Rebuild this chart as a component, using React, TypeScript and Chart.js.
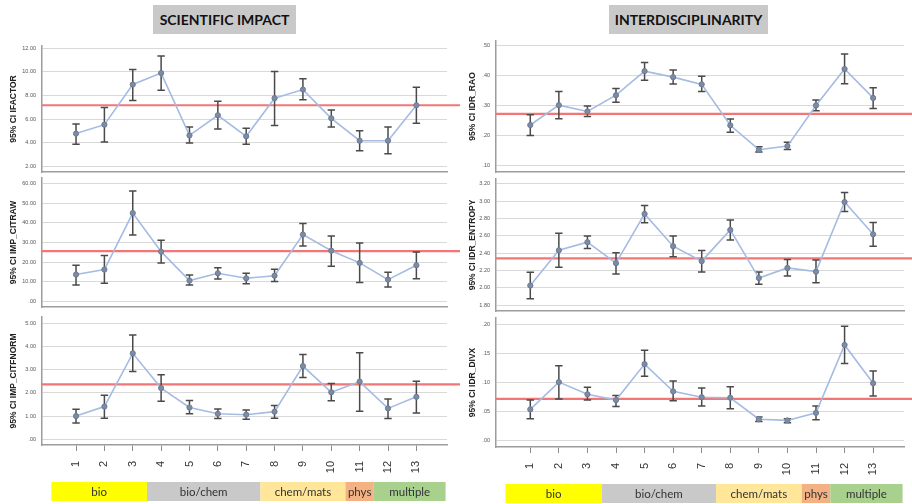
import React, { useEffect, useRef } from "react";
import { Chart, registerables } from "chart.js";

Chart.register(...registerables);

// ---------- data ----------
const categories = ["1", "2", "3", "4", "5", "6", "7", "8", "9", "10", "11", "12", "13"];

const groupNames = ["bio", "bio/chem", "chem/mats", "phys", "multiple"];
const groupFirst = [1, 4, 8, 11, 12];
const groupLast = [3, 7, 10, 11, 13];
const groupColors = ["#ffff00", "#c9c9c9", "#ffe699", "#f4b183", "#a9d18e"];

const ifactorMean = [4.76, 5.52, 8.93, 9.9, 4.61, 6.32, 4.53, 7.77, 8.5, 6.06, 4.16, 4.16, 7.17];
const ifactorLow = [3.85, 4.05, 7.57, 8.45, 3.96, 5.15, 3.85, 5.44, 7.63, 5.32, 3.31, 3.05, 5.64];
const ifactorHigh = [5.58, 6.97, 10.2, 11.35, 5.32, 7.51, 5.21, 10.04, 9.41, 6.77, 5.01, 5.32, 8.7];
const ifactorRef = 7.17;
const ifactorTicks = [2, 4, 6, 8, 10, 12];

const citrawMean = [13.7, 16.2, 44.9, 25.3, 10.6, 14.3, 11.8, 13.1, 34.0, 25.8, 19.6, 11.1, 18.4];
const citrawLow = [8.4, 9.2, 33.8, 19.6, 8.4, 11.4, 9.0, 10.1, 28.2, 17.9, 9.6, 7.3, 11.6];
const citrawHigh = [18.4, 23.4, 56.1, 31.1, 13.5, 17.1, 14.3, 16.4, 39.6, 33.3, 29.7, 14.8, 25.1];
const citrawRef = 25.6;
const citrawTicks = [0, 10, 20, 30, 40, 50, 60];

const citfnormMean = [1.0, 1.41, 3.71, 2.21, 1.37, 1.1, 1.06, 1.19, 3.16, 2.03, 2.49, 1.33, 1.83];
const citfnormLow = [0.7, 0.91, 2.93, 1.64, 1.1, 0.9, 0.86, 0.91, 2.67, 1.66, 1.21, 0.9, 1.13];
const citfnormHigh = [1.29, 1.9, 4.5, 2.79, 1.67, 1.31, 1.26, 1.46, 3.66, 2.41, 3.74, 1.74, 2.5];
const citfnormRef = 2.37;
const citfnormTicks = [0, 1, 2, 3, 4, 5];

const raoMean = [0.236, 0.302, 0.281, 0.335, 0.415, 0.395, 0.371, 0.235, 0.154, 0.166, 0.301, 0.422, 0.326];
const raoLow = [0.201, 0.257, 0.264, 0.312, 0.385, 0.372, 0.347, 0.212, 0.146, 0.155, 0.283, 0.373, 0.291];
const raoHigh = [0.27, 0.347, 0.299, 0.357, 0.444, 0.419, 0.398, 0.256, 0.164, 0.179, 0.319, 0.472, 0.36];
const raoRef = 0.273;
const raoTicks = [0.1, 0.2, 0.3, 0.4, 0.5];

const entropyMean = [2.027, 2.433, 2.527, 2.285, 2.852, 2.48, 2.308, 2.668, 2.113, 2.23, 2.187, 2.989, 2.617];
const entropyLow = [1.874, 2.238, 2.453, 2.16, 2.75, 2.359, 2.183, 2.551, 2.042, 2.136, 2.058, 2.879, 2.48];
const entropyHigh = [2.179, 2.629, 2.598, 2.406, 2.95, 2.598, 2.43, 2.782, 2.183, 2.328, 2.32, 3.098, 2.754];
const entropyRef = 2.34;
const entropyTicks = [1.8, 2.0, 2.2, 2.4, 2.6, 2.8, 3.0, 3.2];

const divxMean = [0.054, 0.101, 0.08, 0.07, 0.132, 0.085, 0.075, 0.074, 0.037, 0.035, 0.048, 0.165, 0.099];
const divxLow = [0.038, 0.072, 0.07, 0.059, 0.111, 0.069, 0.06, 0.055, 0.033, 0.031, 0.036, 0.133, 0.077];
const divxHigh = [0.07, 0.129, 0.092, 0.078, 0.156, 0.103, 0.091, 0.093, 0.041, 0.038, 0.06, 0.197, 0.12];
const divxRef = 0.072;
const divxTicks = [0, 0.05, 0.1, 0.15, 0.2];

// ---------- layout ----------
type Column = { left: number; width: number; yAxisWidth: number; padRight: number; titlePad: number };
const LEFT_COL: Column = { left: 0, width: 460, yAxisWidth: 42, padRight: 13, titlePad: 8.4 };
const RIGHT_COL: Column = { left: 456, width: 456, yAxisWidth: 40, padRight: 8, titlePad: 11.6 };

type Spec = {
  title: string;
  mean: number[];
  low: number[];
  high: number[];
  refValue: number;
  ticks: number[];
  yMin: number;
  yMax: number;
  areaTop: number;
  areaBottom: number;
  bottom: boolean;
  col: Column;
};

const PAD = 12;
const X_MIN = -0.2;
const X_MAX = 14.08;

const fmt = (v: number) => v.toFixed(2).replace(/^0(?=\.)/, "");

function Panel({ spec }: { spec: Spec }) {
  const ref = useRef<HTMLCanvasElement>(null);
  const canvasTop = spec.areaTop - PAD;
  const canvasH = spec.bottom ? 504 - canvasTop : spec.areaBottom + PAD - canvasTop;

  useEffect(() => {
    const col = spec.col;
    const xH = spec.bottom ? 504 - spec.areaBottom : 0;

    const overlay = {
      id: "overlay",
      beforeDatasetsDraw(chart: any) {
        const { ctx, chartArea } = chart;
        const x = chart.scales.x;
        const y = chart.scales.y;
        ctx.save();
        const ry = y.getPixelForValue(spec.refValue);
        ctx.strokeStyle = "#f27676";
        ctx.lineWidth = 2.2;
        ctx.beginPath();
        ctx.moveTo(chartArea.left, ry);
        ctx.lineTo(chart.width, ry);
        ctx.stroke();

        ctx.strokeStyle = "#4a4a4a";
        ctx.lineWidth = 1.5;
        spec.low.forEach((lo, i) => {
          const px = x.getPixelForValue(i + 1);
          const y0 = y.getPixelForValue(lo);
          const y1 = y.getPixelForValue(spec.high[i]);
          ctx.beginPath();
          ctx.moveTo(px, y0);
          ctx.lineTo(px, y1);
          ctx.moveTo(px - 3.7, y0);
          ctx.lineTo(px + 3.7, y0);
          ctx.moveTo(px - 3.7, y1);
          ctx.lineTo(px + 3.7, y1);
          ctx.stroke();
        });
        ctx.restore();
      },
      afterDraw(chart: any) {
        if (!spec.bottom) return;
        const { ctx, chartArea } = chart;
        const x = chart.scales.x;
        const top = chartArea.bottom + 37;
        const h = 19;
        ctx.save();
        groupNames.forEach((name, g) => {
          const start = groupFirst[g] === 1 ? x.min + 0.33 : groupFirst[g] - 0.5;
          const end = groupLast[g] === categories.length ? x.max - 0.05 : groupLast[g] + 0.5;
          const x0 = x.getPixelForValue(start);
          const x1 = x.getPixelForValue(end);
          ctx.fillStyle = groupColors[g];
          ctx.fillRect(x0, top, x1 - x0, h);
          ctx.fillStyle = "#333333";
          ctx.font = "11.5px Lato";
          ctx.textAlign = "center";
          ctx.textBaseline = "middle";
          ctx.fillText(name, (x0 + x1) / 2, top + h / 2 + 0.5);
        });
        ctx.restore();
      },
    };

    const chart = new Chart(ref.current as HTMLCanvasElement, {
      type: "line",
      data: {
        datasets: [
          {
            data: spec.mean.map((v, i) => ({ x: i + 1, y: v })),
            borderColor: "#a5bbe2",
            borderWidth: 1.6,
            tension: 0,
            pointRadius: 2.6,
            pointBackgroundColor: "#7d8ca5",
            pointBorderColor: "#6c7b94",
            pointBorderWidth: 1,
          },
        ],
      },
      options: {
        animation: false,
        responsive: false,
        layout: { padding: { top: PAD, bottom: spec.bottom ? 0 : PAD, left: 0, right: col.padRight } },
        plugins: { legend: { display: false }, tooltip: { enabled: false } },
        scales: {
          x: {
            type: "linear",
            min: X_MIN,
            max: X_MAX,
            bounds: "data",
            afterBuildTicks: (s: any) => {
              s.ticks = categories.map((_, i) => ({ value: i + 1 }));
            },
            afterFit: (s: any) => {
              s.height = xH;
            },
            grid: {
              display: spec.bottom,
              drawOnChartArea: false,
              drawTicks: true,
              tickLength: 6,
              color: "#8c8c8c",
              lineWidth: 1,
            },
            border: { display: true, color: "#9c9c9c", width: 1.5 },
            ticks: {
              display: spec.bottom,
              autoSkip: false,
              minRotation: 90,
              maxRotation: 90,
              padding: 10,
              color: "#333333",
              font: { family: "Liberation Sans", size: 11 },
              callback: (_v: any, i: number) => categories[i],
            },
          },
          y: {
            type: "linear",
            min: spec.yMin,
            max: spec.yMax,
            bounds: "data",
            afterBuildTicks: (s: any) => {
              s.ticks = spec.ticks.map((v) => ({ value: v }));
            },
            afterFit: (s: any) => {
              s.width = col.yAxisWidth;
            },
            grid: { color: "#d9d9d9", lineWidth: 1, drawTicks: false },
            border: { display: true, color: "#9c9c9c", width: 1.5 },
            ticks: {
              padding: 6,
              color: "#555555",
              font: { family: "Liberation Sans", size: 5.5 },
              callback: (v: any) => fmt(Number(v)),
            },
            title: {
              display: true,
              text: spec.title,
              color: "#222222",
              font: { family: "Liberation Sans", size: 8.5, weight: "bold" },
              padding: { top: col.titlePad, bottom: 0 },
            },
          },
        },
      } as any,
      plugins: [overlay],
    });
    return () => chart.destroy();
  }, []);

  return (
    <canvas
      ref={ref}
      width={spec.col.width}
      height={canvasH}
      style={{ position: "absolute", left: spec.col.left, top: canvasTop, width: spec.col.width, height: canvasH }}
    />
  );
}

const specs: Spec[] = [
  { title: "95% CI IFACTOR", mean: ifactorMean, low: ifactorLow, high: ifactorHigh, refValue: ifactorRef, ticks: ifactorTicks, yMin: 1.5, yMax: 12.2, areaTop: 46, areaBottom: 172, bottom: false, col: LEFT_COL },
  { title: "95% CI IMP_CITRAW", mean: citrawMean, low: citrawLow, high: citrawHigh, refValue: citrawRef, ticks: citrawTicks, yMin: -2.8, yMax: 62.7, areaTop: 178, areaBottom: 307, bottom: false, col: LEFT_COL },
  { title: "95% CI IMP_CITFNORM", mean: citfnormMean, low: citfnormLow, high: citfnormHigh, refValue: citfnormRef, ticks: citfnormTicks, yMin: -0.25, yMax: 5.28, areaTop: 317, areaBottom: 445, bottom: true, col: LEFT_COL },
  { title: "95% CI IDR_RAO", mean: raoMean, low: raoLow, high: raoHigh, refValue: raoRef, ticks: raoTicks, yMin: 0.08, yMax: 0.515, areaTop: 41, areaBottom: 172, bottom: false, col: RIGHT_COL },
  { title: "95% CI IDR_ENTROPY", mean: entropyMean, low: entropyLow, high: entropyHigh, refValue: entropyRef, ticks: entropyTicks, yMin: 1.734, yMax: 3.254, areaTop: 179, areaBottom: 311, bottom: false, col: RIGHT_COL },
  { title: "95% CI IDR_DIVX", mean: divxMean, low: divxLow, high: divxHigh, refValue: divxRef, ticks: divxTicks, yMin: -0.0108, yMax: 0.2114, areaTop: 318, areaBottom: 447, bottom: true, col: RIGHT_COL },
];

const titleBox: React.CSSProperties = {
  position: "absolute",
  top: 5,
  height: 29,
  background: "#c9c9c9",
  color: "#111",
  fontFamily: "Lato, sans-serif",
  fontWeight: 700,
  fontSize: 14,
  display: "flex",
  alignItems: "center",
  justifyContent: "center",
};

export default function App() {
  return (
    <div style={{ position: "absolute", left: 0, top: 0, width: 912, height: 504, background: "#fff", overflow: "hidden" }}>
      <div style={{ ...titleBox, left: 153, width: 143 }}>SCIENTIFIC IMPACT</div>
      <div style={{ ...titleBox, left: 609, width: 159 }}>INTERDISCIPLINARITY</div>
      {specs.map((s, i) => (
        <Panel key={i} spec={s} />
      ))}
    </div>
  );
}
